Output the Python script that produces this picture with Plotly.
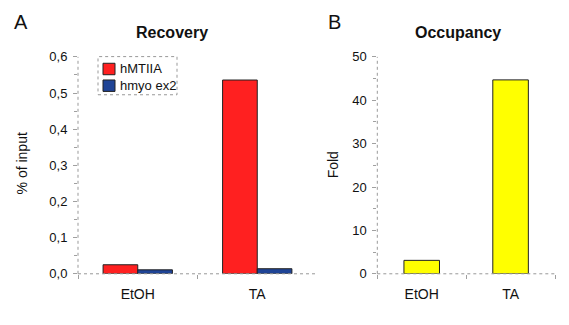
import plotly.graph_objects as go

categories = ["EtOH", "TA"]
series_names = ["hMTIIA", "hmyo ex2"]
hmtiia = [0.025, 0.536]
hmyo = [0.011, 0.014]
fold = [3.1, 44.7]

yA_ticks = [0, 0.1, 0.2, 0.3, 0.4, 0.5, 0.6]
yA_labels = ["0,0", "0,1", "0,2", "0,3", "0,4", "0,5", "0,6"]
yB_ticks = [0, 10, 20, 30, 40, 50]

RED = "#ff2020"
BLUE = "#1f4496"
YELLOW = "#ffff00"
FONT = "Liberation Sans, Arial, sans-serif"
W, H = 569, 325


def px(x):
    return x / W


def py(y):
    return 1 - y / H


fig = go.Figure()
fig.add_trace(go.Bar(x=categories, y=hmtiia, name=series_names[0], xaxis="x", yaxis="y",
                     marker=dict(color=RED, line=dict(color="#222", width=1))))
fig.add_trace(go.Bar(x=categories, y=hmyo, name=series_names[1], xaxis="x", yaxis="y",
                     marker=dict(color=BLUE, line=dict(color="#222", width=1))))
fig.add_trace(go.Bar(x=categories, y=fold, name="Fold", xaxis="x2", yaxis="y2",
                     width=0.4,
                     marker=dict(color=YELLOW, line=dict(color="#222", width=1))))

axis_common = dict(showgrid=False, zeroline=False, showline=False,
                   ticks="outside", ticklen=4, tickcolor="#a0a0a0")

xfont = dict(family=FONT, size=14, color="#111")
yfont = dict(family=FONT, size=13, color="#111")

fig.update_layout(
    width=W, height=H, margin=dict(l=0, r=0, t=0, b=0),
    paper_bgcolor="white", plot_bgcolor="white",
    barmode="group", bargap=0.42, bargroupgap=0, showlegend=False,
    font=dict(family=FONT, color="#111"),
    xaxis=dict(domain=[px(78), px(317)], anchor="y", tickson="boundaries", tickfont=xfont,
               ticklabelstandoff=10, **axis_common),
    yaxis=dict(domain=[py(279.7), py(52.3)], anchor="x", range=[0, 0.6], tickvals=yA_ticks,
               ticktext=yA_labels, tickfont=yfont, ticklabelstandoff=3,
               minor=dict(ticks="outside", ticklen=3, tickcolor="#a0a0a0", dtick=0.05),
               **axis_common),
    xaxis2=dict(domain=[px(377.3), px(555)], anchor="y2", tickson="boundaries", tickfont=xfont,
                ticklabelstandoff=10, **axis_common),
    yaxis2=dict(domain=[py(279.7), py(52.3)], anchor="x2", range=[0, 50], tickvals=yB_ticks,
                tickfont=yfont, ticklabelstandoff=3,
                minor=dict(ticks="outside", ticklen=3, tickcolor="#a0a0a0", dtick=5),
                **axis_common),
)

# dotted axis lines
shapes = []
for xr, yr in (("x", "y"), ("x2", "y2")):
    shapes.append(dict(type="line", xref=f"{xr} domain", yref=f"{yr} domain", x0=0, x1=0, y0=0, y1=1,
                       line=dict(color="#999", width=1, dash="dot")))
    shapes.append(dict(type="line", xref=f"{xr} domain", yref=f"{yr} domain", x0=0, x1=1, y0=0, y1=0,
                       line=dict(color="#999", width=1, dash="dot")))

# custom legend
shapes.append(dict(type="rect", xref="paper", yref="paper", x0=px(98), x1=px(177), y0=py(92), y1=py(52),
                   line=dict(color="#999", width=1, dash="dot"), fillcolor="rgba(0,0,0,0)"))
annotations = []
for i, (name, col) in enumerate(zip(series_names, [RED, BLUE])):
    yc = 65 + 17.5 * i
    shapes.append(dict(type="rect", xref="paper", yref="paper", x0=px(103), x1=px(115),
                       y0=py(yc + 6), y1=py(yc - 6), line=dict(color="#222", width=1), fillcolor=col))
    annotations.append(dict(text=name, x=px(118), y=py(yc), xref="paper", yref="paper", showarrow=False,
                            xanchor="left", yanchor="middle", font=dict(family=FONT, size=13, color="#111")))

annotations += [
    dict(text="A", x=px(21), y=py(16), xref="paper", yref="paper", showarrow=False,
         xanchor="center", yanchor="middle", font=dict(family=FONT, size=20, color="#111")),
    dict(text="B", x=px(334), y=py(16), xref="paper", yref="paper", showarrow=False,
         xanchor="center", yanchor="middle", font=dict(family=FONT, size=20, color="#111")),
    dict(text="<b>Recovery</b>", x=px(171.5), y=py(27), xref="paper", yref="paper", showarrow=False,
         xanchor="center", yanchor="middle", font=dict(family=FONT, size=16, color="#111")),
    dict(text="<b>Occupancy</b>", x=px(457.5), y=py(27), xref="paper", yref="paper", showarrow=False,
         xanchor="center", yanchor="middle", font=dict(family=FONT, size=16, color="#111")),
    dict(text="% of input", x=px(22), y=py(164), xref="paper", yref="paper", showarrow=False,
         textangle=-90, xanchor="center", yanchor="middle", font=dict(family=FONT, size=14, color="#111")),
    dict(text="Fold", x=px(333), y=py(166), xref="paper", yref="paper", showarrow=False,
         textangle=-90, xanchor="center", yanchor="middle", font=dict(family=FONT, size=14, color="#111")),
]

fig.update_layout(shapes=shapes, annotations=annotations)

fig.write_html("out.html")
